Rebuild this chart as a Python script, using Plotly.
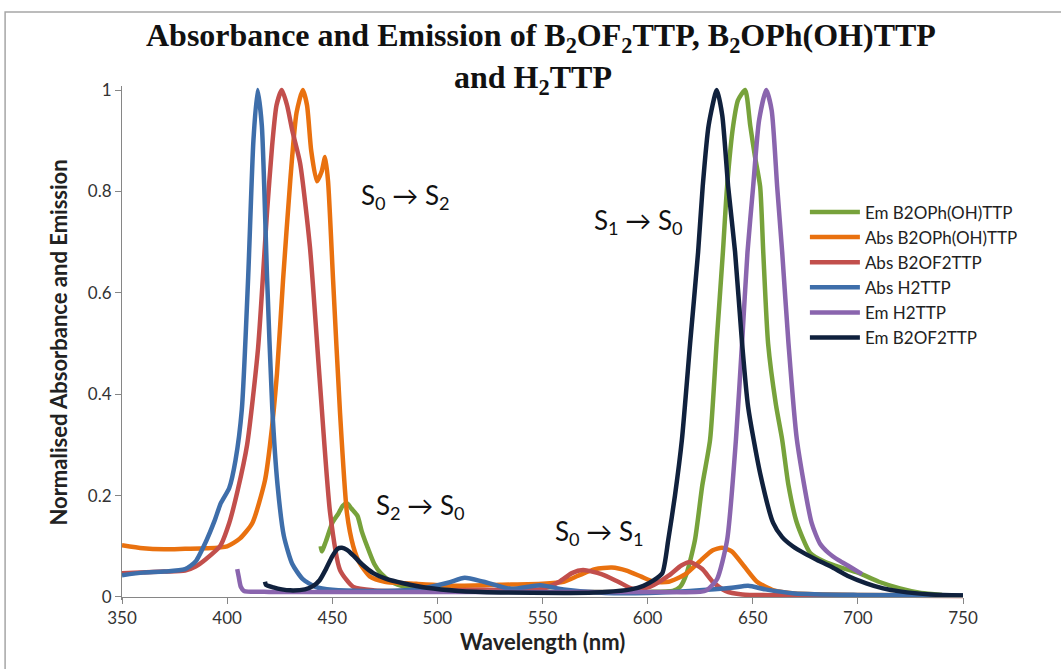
import plotly.graph_objects as go

# ---------------- data ----------------
em_b2oph_x = [444.5, 445, 447, 450, 453, 455, 457, 459, 462, 464, 466.6, 470, 473, 478, 485, 500, 530,
              560, 600, 612, 615.5, 618.6, 622.5, 626, 629.7, 632.9, 635.8, 637.8, 640.7, 643, 646.4,
              648.8, 651, 653.5, 655, 657.3, 661, 664, 667, 671, 677.3, 684, 692, 700, 710, 720, 730, 740]
em_b2oph_y = [0.10, 0.09, 0.11, 0.146, 0.165, 0.18, 0.185, 0.175, 0.16, 0.13, 0.10, 0.065, 0.047, 0.03, 0.02,
              0.015, 0.012, 0.01, 0.01, 0.012, 0.02, 0.047, 0.112, 0.22, 0.31, 0.507, 0.68, 0.81, 0.93, 0.98, 1.0,
              0.93, 0.87, 0.81, 0.68, 0.50, 0.38, 0.31, 0.22, 0.146, 0.087, 0.07, 0.058, 0.048, 0.03, 0.017, 0.008, 0.004]

abs_b2oph_x = [350, 360, 370, 380, 390, 400, 406, 412, 418, 420.4, 423.7, 426.6, 430, 433, 436, 438, 440,
               442.7, 445, 446.6, 448, 450.4, 453.7, 457, 460, 463, 468, 475, 490, 510, 530, 550, 560, 567,
               575, 583, 590, 597, 603, 610, 618, 626, 631, 635.4, 640, 646, 652, 660, 670, 700, 750]
abs_b2oph_y = [0.102, 0.096, 0.094, 0.095, 0.096, 0.10, 0.115, 0.146, 0.23, 0.30, 0.44, 0.625, 0.82, 0.955, 1.0,
               0.97, 0.88, 0.82, 0.84, 0.868, 0.82, 0.625, 0.363, 0.165, 0.10, 0.067, 0.04, 0.03, 0.026, 0.022,
               0.024, 0.026, 0.03, 0.042, 0.055, 0.058, 0.052, 0.04, 0.03, 0.03, 0.045, 0.075, 0.092, 0.097,
               0.09, 0.06, 0.03, 0.013, 0.007, 0.004, 0.003]

abs_b2of2_x = [350, 370, 380, 385, 390, 396.6, 401, 405, 409.5, 414.7, 419, 421.4, 423.5, 426, 428.5, 431,
               434.7, 439.4, 444, 449, 453.7, 460, 470, 480, 520, 550, 558, 564, 569.3, 578, 586, 593, 601,
               610, 616, 620.2, 626, 631, 637, 645, 700, 750]
abs_b2of2_y = [0.047, 0.05, 0.052, 0.06, 0.075, 0.10, 0.146, 0.21, 0.30, 0.49, 0.76, 0.89, 0.97, 1.0, 0.97,
               0.92, 0.856, 0.69, 0.43, 0.165, 0.053, 0.02, 0.013, 0.012, 0.014, 0.016, 0.03, 0.047, 0.053,
               0.045, 0.03, 0.016, 0.02, 0.042, 0.062, 0.069, 0.055, 0.03, 0.012, 0.005, 0.003, 0.002]

abs_h2ttp_x = [350, 360, 370, 380, 385, 390, 394, 397, 401, 404, 407, 410, 412.5, 414.5, 416.5, 419, 421.5,
               424, 427, 431, 436, 442, 450, 470, 490, 505, 513, 522, 535, 549, 560, 580, 600, 620, 640,
               647.8, 656, 670, 700, 750]
abs_h2ttp_y = [0.043, 0.048, 0.05, 0.055, 0.07, 0.11, 0.15, 0.185, 0.215, 0.27, 0.37, 0.63, 0.90, 1.0, 0.93,
               0.63, 0.37, 0.22, 0.12, 0.065, 0.035, 0.02, 0.014, 0.012, 0.015, 0.028, 0.038, 0.03, 0.016,
               0.023, 0.015, 0.008, 0.008, 0.012, 0.018, 0.022, 0.015, 0.007, 0.004, 0.003]

em_h2ttp_x = [404.8, 405.5, 406.5, 408, 420, 450, 500, 550, 600, 625, 628, 633, 637.8, 642, 645, 647.5,
              650.2, 653, 656.4, 659, 661.6, 664, 667, 671, 678, 682, 686, 691, 696, 702]
em_h2ttp_y = [0.055, 0.04, 0.02, 0.012, 0.01, 0.01, 0.01, 0.01, 0.01, 0.01, 0.013, 0.035, 0.112, 0.31, 0.507,
              0.68, 0.81, 0.94, 1.0, 0.96, 0.81, 0.68, 0.50, 0.31, 0.146, 0.105, 0.087, 0.072, 0.06, 0.045]

em_b2of2_x = [418, 418.5, 422, 426, 430, 437, 441, 444, 447, 450, 452.5, 454.6, 457, 460, 464, 469.5, 476,
              483.7, 495, 510, 530, 560, 580, 592, 598, 603, 607, 609.8, 613, 616.3, 620.2, 624, 626.2, 629,
              632.9, 635.5, 638.3, 641.6, 644.8, 647.8, 653.5, 659.7, 664, 669, 675, 680.6, 688, 695, 704,
              712, 720, 735, 750]
em_b2of2_y = [0.03, 0.024, 0.019, 0.015, 0.013, 0.015, 0.022, 0.033, 0.055, 0.08, 0.095, 0.097, 0.093, 0.082,
              0.065, 0.047, 0.035, 0.027, 0.018, 0.012, 0.009, 0.008, 0.01, 0.015, 0.022, 0.033, 0.047, 0.112,
              0.20, 0.31, 0.50, 0.68, 0.81, 0.93, 1.0, 0.95, 0.81, 0.68, 0.507, 0.375, 0.244, 0.146, 0.118,
              0.10, 0.085, 0.073, 0.058, 0.042, 0.027, 0.017, 0.011, 0.005, 0.003]

series = [
    ("Em B2OPh(OH)TTP", em_b2oph_x, em_b2oph_y, "#77a23b"),
    ("Abs B2OPh(OH)TTP", abs_b2oph_x, abs_b2oph_y, "#e9710f"),
    ("Abs B2OF2TTP", abs_b2of2_x, abs_b2of2_y, "#c24f4c"),
    ("Abs H2TTP", abs_h2ttp_x, abs_h2ttp_y, "#3e6eaa"),
    ("Em H2TTP", em_h2ttp_x, em_h2ttp_y, "#8a65ae"),
    ("Em B2OF2TTP", em_b2of2_x, em_b2of2_y, "#10213d"),
]

x_ticks = [350, 400, 450, 500, 550, 600, 650, 700, 750]
y_ticks = [0, 0.2, 0.4, 0.6, 0.8, 1]
y_tick_labels = ["0", "0.2", "0.4", "0.6", "0.8", "1"]

labels = [
    ("S<sub>0</sub> → S<sub>2</sub>", 485, 0.79),
    ("S<sub>2</sub> → S<sub>0</sub>", 492, 0.178),
    ("S<sub>0</sub> → S<sub>1</sub>", 577, 0.128),
    ("S<sub>1</sub> → S<sub>0</sub>", 595.5, 0.74),
]

title_line1 = "Absorbance and Emission of B<sub>2</sub>OF<sub>2</sub>TTP, B<sub>2</sub>OPh(OH)TTP"
title_line2 = "and H<sub>2</sub>TTP"

# ---------------- figure ----------------
Y_LO, Y_HI = -0.006, 1.008
X_LO, X_HI = 350, 750

fig = go.Figure()
for name, xs, ys, col in series:
    fig.add_trace(go.Scatter(x=xs, y=ys, mode="lines", name=name,
                             line=dict(color=col, width=4.5, shape="spline", smoothing=0.6)))

font_sans = "Lato, 'Open Sans', sans-serif"
font_serif = "'Liberation Serif', 'Times New Roman', serif"
for txt, xv, yv in labels:
    fig.add_annotation(x=xv, y=yv, text=txt, showarrow=False,
                       font=dict(family=font_sans, size=26, color="#111"))

# two-line title
fig.add_annotation(xref="paper", yref="paper", x=0.498, y=1.0945, text="<b>" + title_line1 + "</b>",
                   showarrow=False, yanchor="middle", font=dict(family=font_serif, size=32, color="#111"))
fig.add_annotation(xref="paper", yref="paper", x=0.489, y=1.0125, text="<b>" + title_line2 + "</b>",
                   showarrow=False, yanchor="middle", font=dict(family=font_serif, size=32, color="#111"))

fig.add_annotation(xref="paper", yref="paper", x=-0.095, y=0.5, text="<b>Normalised Absorbance and Emission</b>",
                   textangle=-90, showarrow=False, font=dict(family=font_sans, size=22, color="#222"))
fig.add_annotation(xref="paper", yref="paper", x=0.5, y=-0.111, text="<b>Wavelength (nm)</b>",
                   showarrow=False, font=dict(family=font_sans, size=22, color="#222"))

# outer chart frame
fig.add_shape(type="rect", xref="paper", yref="paper", x0=-0.139, x1=1.2, y0=-0.2, y1=1.144,
              line=dict(color="#a6a6a6", width=1.5), layer="below")

fig.update_layout(
    width=1061, height=669,
    margin=dict(l=122, r=98, t=86, b=69),
    paper_bgcolor="white", plot_bgcolor="white",
    showlegend=True,
    legend=dict(x=0.812, y=0.789, xanchor="left", yanchor="top", bgcolor="rgba(0,0,0,0)",
                font=dict(family=font_sans, size=17, color="#222"), tracegroupgap=0, itemwidth=50),
    xaxis=dict(range=[X_LO, X_HI], tickvals=x_ticks, showgrid=False, zeroline=False,
               showline=True, linecolor="#868686", linewidth=1.2,
               ticks="outside", ticklen=6, tickcolor="#868686",
               anchor="free", position=(0 - Y_LO) / (Y_HI - Y_LO),
               tickfont=dict(family=font_sans, size=17, color="#333")),
    yaxis=dict(range=[Y_LO, Y_HI], tickvals=y_ticks, ticktext=y_tick_labels, showgrid=False, zeroline=False,
               showline=True, linecolor="#868686", linewidth=1.2,
               ticks="outside", ticklen=6, tickcolor="#868686",
               tickfont=dict(family=font_sans, size=17, color="#333")),
)

fig.write_html("out.html", config={"displayModeBar": False},
               post_script="document.body.style.margin='0';")
